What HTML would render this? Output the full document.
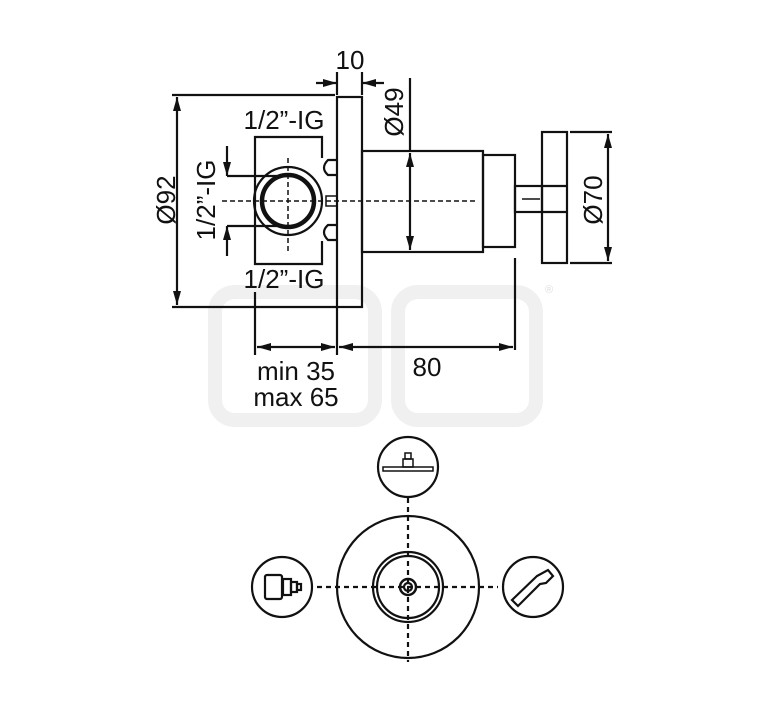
<!DOCTYPE html>
<html><head><style>body{margin:0;background:#fff}svg{display:block}text{font-family:"Liberation Sans",Arial,sans-serif;fill:#111}</style></head><body>
<svg width="767" height="709" viewBox="0 0 767 709" xmlns="http://www.w3.org/2000/svg">
<defs><marker id="a" viewBox="0 0 14 8" refX="14" refY="4" markerWidth="14" markerHeight="8" orient="auto-start-reverse" markerUnits="userSpaceOnUse"><path d="M0,0 L14,4 L0,8z" fill="#111"/></marker></defs>
<g fill="none" stroke="#f0f0f0" stroke-width="14">
<rect x="215" y="292" width="160" height="128" rx="20"/><rect x="398" y="292" width="138" height="128" rx="20"/>
</g>
<g stroke="#111" stroke-width="2.2" fill="none">
<rect x="337" y="97" width="25" height="210"/>
<line x1="337" y1="72" x2="337" y2="95"/><line x1="362" y1="72" x2="362" y2="95"/>
<line x1="316" y1="83" x2="337" y2="83" marker-end="url(#a)"/><line x1="384" y1="83" x2="362" y2="83" marker-end="url(#a)"/>
<line x1="172" y1="95" x2="335" y2="95"/><line x1="172" y1="307" x2="337" y2="307"/>
<line x1="177" y1="97" x2="177" y2="305" marker-start="url(#a)" marker-end="url(#a)"/>
<path d="M322,158 L322,137 L255,137 L255,264 L322,264 L322,241"/>
<path d="M337,160 L328,160 Q320,168 328,175 L337,175"/>
<path d="M337,225 L328,225 Q320,232 328,240 L337,240"/>
<circle cx="288" cy="201" r="34"/>
<circle cx="288" cy="201" r="26" stroke-width="4.5"/>
<rect x="326" y="196" width="11" height="10" stroke-width="1.5"/>
<line x1="227" y1="176" x2="288" y2="176"/><line x1="227" y1="226" x2="288" y2="226"/>
<line x1="227" y1="146" x2="227" y2="176" marker-end="url(#a)"/><line x1="227" y1="256" x2="227" y2="226" marker-end="url(#a)"/>
<rect x="362" y="151" width="121" height="101"/>
<rect x="483" y="155" width="32" height="92"/>
<rect x="515" y="186" width="27" height="26"/>
<line x1="522" y1="199" x2="540" y2="199" stroke-width="1.5"/>
<rect x="542" y="132" width="25" height="131"/>
<line x1="542" y1="186" x2="567" y2="186"/><line x1="542" y1="212" x2="567" y2="212"/>
<line x1="410" y1="78" x2="410" y2="151"/>
<line x1="410" y1="153" x2="410" y2="250" marker-start="url(#a)" marker-end="url(#a)"/>
<line x1="570" y1="132" x2="612" y2="132"/><line x1="570" y1="263" x2="612" y2="263"/>
<line x1="608" y1="134" x2="608" y2="261" marker-start="url(#a)" marker-end="url(#a)"/>
<line x1="255" y1="292" x2="255" y2="355"/><line x1="337" y1="307" x2="337" y2="355"/><line x1="515" y1="258" x2="515" y2="350"/>
<line x1="257" y1="347" x2="335" y2="347" marker-start="url(#a)" marker-end="url(#a)"/>
<line x1="339" y1="347" x2="513" y2="347" marker-start="url(#a)" marker-end="url(#a)"/>
<line x1="222" y1="201" x2="475" y2="201" stroke-dasharray="5,3" stroke-width="1.5"/>
<line x1="288" y1="158" x2="288" y2="252" stroke-dasharray="5,3" stroke-width="1.5"/>
<circle cx="408" cy="467" r="30"/>
<circle cx="408" cy="587" r="71"/>
<circle cx="408" cy="587" r="35"/><circle cx="408" cy="587" r="31"/>
<circle cx="408" cy="587" r="8" stroke-width="2.5"/><circle cx="408" cy="587" r="4"/>
<circle cx="282" cy="587" r="30"/>
<circle cx="533" cy="587" r="30"/>
<line x1="317" y1="587" x2="498" y2="587" stroke-dasharray="5,4"/>
<line x1="408" y1="498" x2="408" y2="662" stroke-dasharray="5,4"/>
<rect x="383" y="467" width="50" height="4" stroke-width="1.5"/>
<rect x="403" y="459" width="10" height="8" stroke-width="1.5"/><rect x="405" y="453" width="6" height="6" stroke-width="1.5"/>
<rect x="265" y="575" width="17" height="24" rx="2"/>
<rect x="283" y="579" width="8" height="16"/><rect x="291" y="582" width="6" height="10"/><rect x="297" y="584" width="4" height="6"/>
<path d="M512,600 L537,576 L548,570 L553,576 L546,583 L540,584 L518,606 Z"/>
</g>
<g font-size="26">
<text x="350" y="69" text-anchor="middle">10</text>
<text x="284" y="129" text-anchor="middle">1/2”-IG</text>
<text x="284" y="288" text-anchor="middle">1/2”-IG</text>
<text x="296" y="380" text-anchor="middle">min 35</text>
<text x="296" y="406" text-anchor="middle">max 65</text>
<text x="427" y="376" text-anchor="middle">80</text>
<text transform="translate(175,200) rotate(-90)" text-anchor="middle">Ø92</text>
<text transform="translate(215,200) rotate(-90)" text-anchor="middle">1/2”-IG</text>
<text transform="translate(403,112) rotate(-90)" text-anchor="middle">Ø49</text>
<text transform="translate(602,200) rotate(-90)" text-anchor="middle">Ø70</text>
</g>
<text x="545" y="293" font-size="11" style="fill:#ddd">®</text>
</svg>
</body></html>
